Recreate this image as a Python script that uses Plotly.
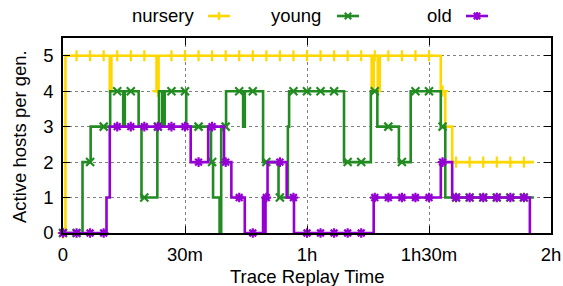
import numpy as np
import plotly.graph_objects as go

# ---- data (time in minutes, active host count) ----
series_names = ["nursery", "young", "old"]

nursery_t = [0, 0.6, 11.5, 11.9, 23.0, 23.5, 75.9, 76.4, 77.4, 77.9, 92.9, 94.0, 95.7, 115.8]
nursery_v = [0, 5, 4, 5, 4, 5, 4, 5, 4, 5, 4, 3, 2, 2]

young_t = [0, 4.8, 6.8, 11.6, 14.8, 15.2, 18.6, 19.3, 23.2, 23.6, 24.4, 25.0, 30.3, 36.4,
           36.9, 38.5, 38.9, 40.1, 44.3, 44.7, 49.2, 53.0, 55.3, 55.6, 69.1, 75.7, 77.3,
           82.6, 85.5, 92.9, 94.0, 115.8]
young_v = [0, 2, 3, 4, 3, 4, 3, 1, 3, 4, 3, 4, 3, 2,
           1, 0, 3, 4, 3, 4, 2, 1, 3, 4, 2, 4, 3,
           2, 4, 3, 1, 1]

old_t = [0, 10.7, 11.5, 31.4, 35.7, 39.6, 41.4, 44.7, 49.2, 49.5, 49.8, 50.3, 55.0, 56.8,
         76.4, 92.9, 95.7, 114.8]
old_v = [0, 1, 3, 2, 3, 2, 1, 0, 1, 0, 1, 2, 1, 0,
         1, 2, 1, 0]

x_tick_vals = [0, 30, 60, 90, 120]
x_tick_text = ["0", "30m", "1h", "1h30m", "2h"]
y_tick_vals = [0, 1, 2, 3, 4, 5]

point_interval_min = 200 / 60.0   # a point drawn every 200 s of replay

colors = ["#FFD700", "#228B22", "#9400D3"]
symbols = ["cross-thin-open", "x-thin-open", "asterisk-open"]
glyphs = ["+", "x", "*"]

FONT = "Liberation Sans, Arial, sans-serif"
FS = 18.5


def sample_steps(ts, vs, step):
    ts = np.asarray(ts, dtype=float)
    vs = np.asarray(vs, dtype=float)
    grid = np.arange(0, ts[-1] + 1e-9, step)
    idx = np.searchsorted(ts, grid, side="right") - 1
    return grid, vs[idx]


fig = go.Figure()
all_series = [(nursery_t, nursery_v), (young_t, young_v), (old_t, old_v)]
for (ts, vs), name, col, sym in zip(all_series, series_names, colors, symbols):
    fig.add_trace(go.Scatter(x=ts, y=vs, mode="lines", line=dict(color=col, width=2.6, shape="hv"),
                             name=name, showlegend=False, cliponaxis=False, hoverinfo="skip"))
    gx, gy = sample_steps(ts, vs, point_interval_min)
    fig.add_trace(go.Scatter(x=gx, y=gy, mode="markers",
                             marker=dict(symbol=sym, size=8, color=col, line=dict(color=col, width=2.2)),
                             showlegend=False, cliponaxis=False, hoverinfo="skip"))

# ---- plot geometry (pixels) ----
PL, PR, PT, PB = 63, 551, 38, 233
W, H = 563, 286


def pxx(x):
    return (x - PL) / (PR - PL)


def pxy(y):
    return (PB - y) / (PB - PT)


shapes = []
annotations = []

# gnuplot-style key: text, then line sample with a point
key_text_right = [196, 323, 454]
key_sample = [(208, 230), (337, 359), (466, 488)]
key_y = 16
for name, tr, (s0, s1), col, g in zip(series_names, key_text_right, key_sample, colors, glyphs):
    annotations.append(dict(text=name, x=pxx(tr), y=pxy(key_y), xref="paper", yref="paper",
                            xanchor="right", yanchor="middle", showarrow=False,
                            font=dict(family=FONT, size=FS, color="black")))
    shapes.append(dict(type="line", xref="paper", yref="paper", x0=pxx(s0), x1=pxx(s1),
                       y0=pxy(key_y), y1=pxy(key_y), line=dict(color=col, width=2.6)))
    cx = (s0 + s1) / 2
    segs = []
    if g in "+*":
        segs += [((cx - 4, key_y), (cx + 4, key_y)), ((cx, key_y - 4), (cx, key_y + 4))]
    if g in "x*":
        segs += [((cx - 3.2, key_y - 3.2), (cx + 3.2, key_y + 3.2)),
                 ((cx - 3.2, key_y + 3.2), (cx + 3.2, key_y - 3.2))]
    for (a, b) in segs:
        shapes.append(dict(type="line", xref="paper", yref="paper", x0=pxx(a[0]), y0=pxy(a[1]),
                           x1=pxx(b[0]), y1=pxy(b[1]), line=dict(color=col, width=2.2)))

# axis titles
annotations.append(dict(text="Trace Replay Time", x=0.5, y=pxy(276), xref="paper", yref="paper",
                        xanchor="center", yanchor="middle", showarrow=False,
                        font=dict(family=FONT, size=FS, color="black")))
annotations.append(dict(text="Active hosts per gen.", x=pxx(19), y=pxy(137), xref="paper", yref="paper",
                        xanchor="center", yanchor="middle", showarrow=False, textangle=-90,
                        font=dict(family=FONT, size=FS, color="black")))

axis_common = dict(showline=True, linecolor="black", linewidth=1.5, mirror="ticks",
                   ticks="inside", ticklen=7, tickwidth=1.2, tickcolor="black",
                   showgrid=True, gridcolor="#808080", gridwidth=1, griddash="dot",
                   zeroline=False, automargin=False,
                   tickfont=dict(family=FONT, size=FS, color="black"))

fig.update_layout(
    width=W, height=H,
    margin=dict(l=PL, r=W - PR, t=PT, b=H - PB, pad=0, autoexpand=False),
    paper_bgcolor="white", plot_bgcolor="white",
    xaxis=dict(range=[0, 120], tickvals=x_tick_vals, ticktext=x_tick_text,
               ticklabelstandoff=4, **axis_common),
    yaxis=dict(range=[0, 5.5], tickvals=y_tick_vals, ticklabelstandoff=4, **axis_common),
    shapes=shapes, annotations=annotations,
    showlegend=False,
)

fig.write_html("out.html", config={"displayModeBar": False},
               post_script="document.body.style.margin='0';document.body.style.overflow='hidden';")
